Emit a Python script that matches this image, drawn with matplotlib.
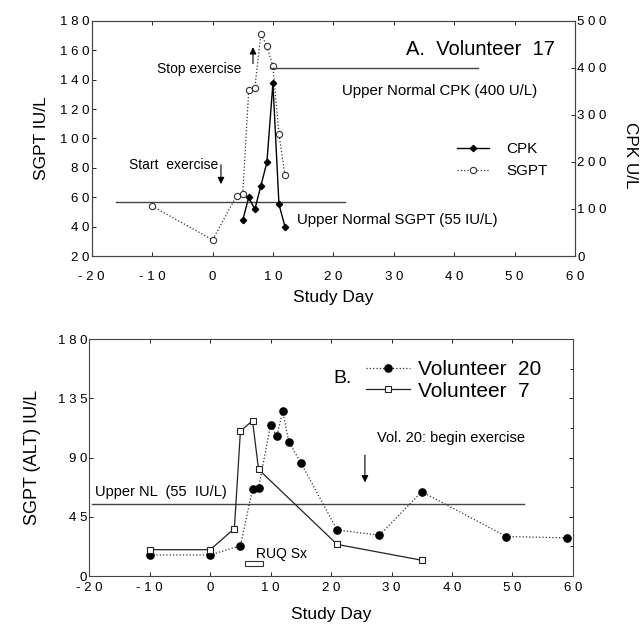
""" SGPT / CPK response to exercise, two volunteer panels """
import matplotlib
matplotlib.use('Agg')
import matplotlib.pyplot as plt
from matplotlib.ticker import FuncFormatter, MultipleLocator
from matplotlib.patches import Rectangle

plt.rcParams['font.family'] = ['Liberation Sans', 'DejaVu Sans']

# panel A: volunteer 17
sgpt_days = [-10, 0, 4, 5, 6, 7, 8, 9, 10, 11, 12]
sgpt_vals = [54, 31, 61, 62, 133, 134, 171, 163, 149, 103, 75]
cpk_days = [5, 6, 7, 8, 9, 10, 11, 12]
cpk_vals = [76, 125, 99, 149, 199, 367, 110, 62]
sgpt_limit = 57
cpk_limit = 400

# panel B: volunteers 20 and 7
v20_days = [-10, 0, 5, 7, 8, 10, 11, 12, 13, 15, 21, 28, 35, 49, 59]
v20_vals = [16, 16, 23, 66, 67, 115, 106, 125, 102, 86, 35, 31, 64, 30, 29]
v7_days = [-10, 0, 4, 5, 7, 8, 21, 35]
v7_vals = [20, 20, 36, 110, 118, 81, 24, 12]
alt_limit = 55

x_ticks = list(range(-20, 61, 10))


def spaced(v, pos):
    """letter-spaced tick labels like the scanned original"""
    return ' '.join(f'{v:g}')


def style_axes(a):
    """thin grey frame"""
    for s in a.spines.values():
        s.set_linewidth(0.8)
        s.set_color('#444444')


arrow = dict(arrowstyle='-|>', color='black', lw=0.8, mutation_scale=10)

fig = plt.figure(figsize=(6.43, 6.27), dpi=100)

# ---------- panel A ----------
ax1 = fig.add_axes([0.1426, 0.5917, 0.7516, 0.375])
ax2 = ax1.twinx()
ax1.plot(sgpt_days, sgpt_vals, ls=':', lw=0.9, color='#333333', marker='o',
         ms=4.5, mfc='white', mec='#333333', mew=0.8, label='SGPT', zorder=3)
ax2.plot(cpk_days, cpk_vals, ls='-', lw=1.0, color='black', marker='D',
         ms=3.2, mfc='black', mec='black', label='CPK', zorder=3)
ax1.plot([-16, 22], [sgpt_limit, sgpt_limit], color='#444444', lw=1.0)
ax2.plot([9.5, 44], [cpk_limit, cpk_limit], color='#444444', lw=1.0)

ax1.set_xlim(-20, 60)
ax1.set_ylim(20, 180)
ax2.set_ylim(0, 500)
ax1.set_xticks(x_ticks)
ax1.yaxis.set_major_locator(MultipleLocator(20))
ax2.yaxis.set_major_locator(MultipleLocator(100))
for a in (ax1, ax2):
    a.xaxis.set_major_formatter(FuncFormatter(spaced))
    a.yaxis.set_major_formatter(FuncFormatter(spaced))
    a.tick_params(direction='in', length=3, width=0.6, labelsize=9.5, pad=1.5)
    style_axes(a)
ax1.tick_params(axis='x', top=True, pad=11)
ax1.set_xlabel('Study Day', fontsize=12.5, labelpad=4.5)
ax1.set_ylabel('SGPT IU/L', fontsize=12.5, labelpad=8)
ax2.set_ylabel('CPK U/L', fontsize=12.3, rotation=270, labelpad=18)
ax2.yaxis.set_label_coords(1.13, 0.43)

ax1.text(32.1, 160.7, 'A.  Volunteer  17', fontsize=14.5, ha='left',
         va='center')
ax1.annotate('', xy=(6.7, 164), xytext=(6.7, 149), arrowprops=arrow)
ax1.text(4.8, 147.5, 'Stop exercise', fontsize=10, ha='right', va='center')
ax1.annotate('', xy=(1.4, 67), xytext=(1.4, 84), arrowprops=arrow)
ax1.text(0.9, 82, 'Start  exercise', fontsize=10, ha='right', va='center')
ax1.text(21.5, 132, 'Upper Normal CPK (400 U/L)', fontsize=10.8,
         va='center')
ax1.text(14, 44.5, 'Upper Normal SGPT (55 IU/L)', fontsize=10.8,
         va='center')

h1, l1 = ax2.get_legend_handles_labels()
h2, l2 = ax1.get_legend_handles_labels()
ax1.legend(h1 + h2, l1 + l2, loc='center left', bbox_to_anchor=(0.756, 0.408),
           frameon=False, fontsize=11, handlelength=2.1, handletextpad=1.1,
           labelspacing=0.55, borderpad=0, borderaxespad=0)

# ---------- panel B ----------
ax3 = fig.add_axes([0.1389, 0.0813, 0.752, 0.378])
ax3.plot(v20_days, v20_vals, ls=':', lw=0.9, color='#333333', marker='o',
         ms=5.2, mfc='black', mec='black', label='Volunteer  20', zorder=3)
ax3.plot(v7_days, v7_vals, ls='-', lw=0.9, color='#222222', marker='s',
         ms=4.2, mfc='white', mec='#222222', mew=0.8, label='Volunteer  7',
         zorder=3)
ax3.plot([-19.5, 52], [alt_limit, alt_limit], color='#444444', lw=1.0)

ax3.set_xlim(-20, 60)
ax3.set_ylim(0, 180)
ax3.set_xticks(x_ticks)
ax3.yaxis.set_major_locator(MultipleLocator(45))
ax3.yaxis.set_minor_locator(MultipleLocator(22.5))
ax3.xaxis.set_major_formatter(FuncFormatter(spaced))
ax3.yaxis.set_major_formatter(FuncFormatter(spaced))
ax3.tick_params(direction='in', length=3, width=0.6, labelsize=9.5, pad=1.5,
                top=True, right=True)
ax3.tick_params(axis='x', pad=4.5)
ax3.tick_params(which='minor', direction='in', length=2, right=True,
                left=False)
style_axes(ax3)
ax3.set_xlabel('Study Day', fontsize=12.5, labelpad=9)
ax3.set_ylabel('SGPT (ALT) IU/L', fontsize=13, labelpad=12)

ax3.text(-19, 63.5, 'Upper NL  (55  IU/L)', fontsize=10.5, va='center')
ax3.text(20.3, 150, 'B.', fontsize=14, va='center')
ax3.annotate('', xy=(25.6, 69), xytext=(25.6, 94), arrowprops=arrow)
ax3.text(27.6, 105, 'Vol. 20: begin exercise', fontsize=10.5, va='center')
ax3.add_patch(Rectangle((5.7, 7.6), 3.0, 3.7, fill=False, lw=0.8,
                        ec='#333333'))
ax3.text(7.5, 16.5, 'RUQ Sx', fontsize=10, va='center')
ax3.legend(loc='center left', bbox_to_anchor=(0.573, 0.825), frameon=False,
           fontsize=15, handlelength=2.1, handletextpad=0.4,
           labelspacing=0.1, borderpad=0, borderaxespad=0)

fig.savefig('out.png', dpi=100)
